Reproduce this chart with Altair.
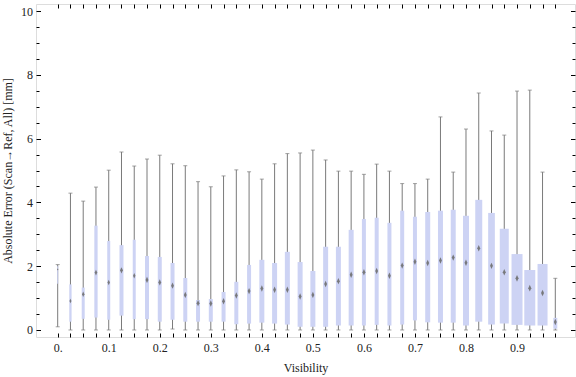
import altair as alt
import pandas as pd

# ---- data ----
visibility = [0.0, 0.025, 0.05, 0.075, 0.1, 0.125, 0.15, 0.175,
              0.2, 0.225, 0.25, 0.275, 0.3, 0.325, 0.35, 0.375,
              0.4, 0.425, 0.45, 0.475, 0.5, 0.525, 0.55, 0.575,
              0.6, 0.625, 0.65, 0.675, 0.7, 0.725, 0.75, 0.775,
              0.8, 0.825, 0.85, 0.875, 0.9, 0.925, 0.95, 0.975]
whisker_low = [0.10, 0.0, 0.0, 0.0, 0.0, 0.0, 0.0, 0.0,
               0.0, 0.03, 0.0, 0.0, 0.0, 0.0, 0.0, 0.0,
               0.0, 0.0, 0.0, 0.0, 0.0, 0.0, 0.0, 0.0,
               0.0, 0.0, 0.0, 0.0, 0.0, 0.0, 0.0, 0.0,
               0.0, 0.0, 0.0, 0.0, 0.0, 0.0, 0.0, 0.0]
quartile1 = [1.45, 0.26, 0.35, 0.39, 0.32, 0.45, 0.34, 0.34,
             0.26, 0.32, 0.26, 0.26, 0.26, 0.26, 0.18, 0.20,
             0.23, 0.20, 0.17, 0.10, 0.10, 0.10, 0.14, 0.14,
             0.14, 0.16, 0.14, 0.17, 0.30, 0.24, 0.23, 0.23,
             0.14, 0.26, 0.17, 0.20, 0.16, 0.14, 0.14, 0.04]
median = [1.90, 0.91, 1.12, 1.80, 1.49, 1.87, 1.70, 1.57,
          1.49, 1.39, 1.10, 0.84, 0.83, 0.90, 1.08, 1.22,
          1.30, 1.26, 1.26, 1.05, 1.10, 1.44, 1.53, 1.73,
          1.81, 1.85, 1.70, 2.02, 2.14, 2.10, 2.18, 2.27,
          2.11, 2.56, 2.01, 1.81, 1.62, 1.31, 1.16, 0.25]
quartile3 = [2.00, 1.43, 1.33, 3.27, 2.79, 2.66, 2.83, 2.32,
             2.29, 2.10, 1.63, 0.94, 0.97, 1.19, 1.51, 2.04,
             2.20, 2.10, 2.45, 2.13, 1.85, 2.61, 2.61, 3.14,
             3.48, 3.52, 3.36, 3.74, 3.55, 3.70, 3.74, 3.77,
             3.58, 4.08, 3.67, 3.17, 2.38, 1.88, 2.07, 0.38]
whisker_high = [2.05, 4.29, 4.04, 4.48, 5.01, 5.58, 5.14, 5.36,
                5.48, 5.21, 5.15, 4.65, 4.49, 4.83, 5.02, 4.96,
                4.73, 5.21, 5.53, 5.55, 5.64, 5.33, 4.98, 4.98,
                4.88, 5.20, 4.98, 4.59, 4.59, 4.73, 6.68, 4.95,
                6.30, 7.43, 6.24, 6.11, 7.49, 7.52, 4.95, 1.62]
# relative sample weight (drives box width)
weight = [1, 2.3, 3, 3.3, 3, 4, 3, 4,
          4, 4, 4, 4, 4, 4, 4, 4,
          5, 5, 5, 5, 5, 5, 5, 5,
          4, 4, 4, 4, 4, 5, 5, 5,
          6, 7, 6.7, 9, 11, 11, 10, 4]

x_ticks = [0.0, 0.025, 0.05, 0.075, 0.1, 0.125, 0.15, 0.175,
           0.2, 0.225, 0.25, 0.275, 0.3, 0.325, 0.35, 0.375,
           0.4, 0.425, 0.45, 0.475, 0.5, 0.525, 0.55, 0.575,
           0.6, 0.625, 0.65, 0.675, 0.7, 0.725, 0.75, 0.775,
           0.8, 0.825, 0.85, 0.875, 0.9, 0.925, 0.95, 0.975]
y_major = [0, 2, 4, 6, 8, 10]
y_minor = [0.5, 1, 1.5, 2.5, 3, 3.5, 4.5, 5, 5.5, 6.5, 7, 7.5, 8.5, 9, 9.5]

df = pd.DataFrame({
    "vis": visibility, "lo": whisker_low, "q1": quartile1, "med": median,
    "q3": quartile3, "hi": whisker_high, "w": weight,
})

FONT = "Liberation Serif"
TXT = "#222222"
xscale = alt.Scale(domain=[-0.0327, 1.0038], nice=False, zero=False)
yscale = alt.Scale(domain=[-0.22, 10.22], nice=False, zero=False)

x_label_expr = ("abs(datum.value*10 - round(datum.value*10)) < 0.001 ? "
                "(datum.value == 0 ? '0.' : format(datum.value, '.1f')) : ''")

common = dict(grid=False, domain=False, tickColor="black", tickWidth=1)

ax_bottom = alt.Axis(orient="bottom", values=x_ticks, tickSize=4, offset=-4,
                     labelExpr=x_label_expr, labelPadding=5, labelFont=FONT,
                     labelFontSize=12, labelColor=TXT, title="Visibility",
                     titleFont=FONT, titleFontSize=12, titleFontWeight="normal",
                     titleColor=TXT, titlePadding=9, **common)
ax_left = alt.Axis(orient="left", values=y_major, tickSize=4.5, offset=-4.5,
                   labelPadding=3.5, labelFont=FONT, labelFontSize=12,
                   labelColor=TXT, title="Absolute Error (Scan→Ref, All) [mm]",
                   titleFont=FONT, titleFontSize=12, titleFontWeight="normal",
                   titleColor=TXT, titlePadding=6, **common)
ax_left_minor = alt.Axis(orient="left", values=y_minor, tickSize=3, offset=-3,
                         labels=False, title=None, **common)
ax_top = alt.Axis(orient="top", values=x_ticks, tickSize=4, offset=-4,
                  labels=False, title=None, **common)
ax_right = alt.Axis(orient="right", values=y_major, tickSize=4.5, offset=-4.5,
                    labels=False, title=None, **common)
ax_right_minor = alt.Axis(orient="right", values=y_minor, tickSize=3, offset=-3,
                          labels=False, title=None, **common)


def axis_layer(xax, yax):
    return alt.Chart(df).mark_point(opacity=0).encode(
        x=alt.X("vis:Q", scale=xscale, axis=xax),
        y=alt.Y("med:Q", scale=yscale, axis=yax),
    )


base = alt.Chart(df)
whisker = base.mark_rule(color="#7a7a7a", strokeWidth=1).encode(
    x=alt.X("vis:Q", scale=xscale, axis=None),
    y=alt.Y("lo:Q", scale=yscale, axis=None),
    y2="hi:Q",
)
cap_hi = base.mark_tick(color="#7a7a7a", orient="horizontal", thickness=1, size=4).encode(
    x=alt.X("vis:Q", scale=xscale, axis=None),
    y=alt.Y("hi:Q", scale=yscale, axis=None),
)
cap_lo = base.mark_tick(color="#7a7a7a", orient="horizontal", thickness=1, size=4).encode(
    x=alt.X("vis:Q", scale=xscale, axis=None),
    y=alt.Y("lo:Q", scale=yscale, axis=None),
)
box = base.mark_bar(color="#cdd3f4", opacity=1).encode(
    x=alt.X("vis:Q", scale=xscale, axis=None),
    y=alt.Y("q1:Q", scale=yscale, axis=None),
    y2="q3:Q",
    size=alt.Size("w:Q", scale=alt.Scale(domain=[0, 11], range=[0, 11]), legend=None),
)
med = base.mark_point(
    shape="M0,-1L0.45,0L0,1L-0.45,0Z", filled=True, color="#6f6f6f", opacity=0.9
).encode(
    x=alt.X("vis:Q", scale=xscale, axis=None),
    y=alt.Y("med:Q", scale=yscale, axis=None),
    size=alt.Size("w:Q", scale=alt.Scale(domain=[1, 4, 11], range=[6, 40, 45]), legend=None),
)

chart = alt.layer(
    axis_layer(ax_bottom, ax_left),
    axis_layer(None, ax_left_minor),
    axis_layer(ax_top, ax_right),
    axis_layer(None, ax_right_minor),
    whisker, cap_hi, cap_lo, box, med,
).resolve_axis(x="independent", y="independent").resolve_scale(size="independent").properties(
    width=539, height=333,
    autosize=alt.AutoSizeParams(type="none"),
    padding={"left": 36, "top": 4, "right": 1, "bottom": 40},
).configure_view(stroke="black", strokeWidth=1).configure(background="white")

chart.save("out.html", embed_options={"renderer": "svg", "actions": False})
